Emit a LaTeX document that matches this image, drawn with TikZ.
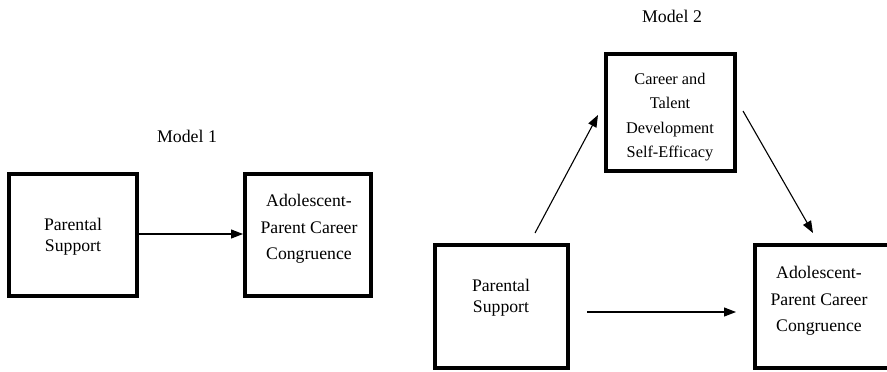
\documentclass[tikz,border=0pt]{standalone}
\usepackage{fontspec}
\setmainfont{Liberation Serif}
\usetikzlibrary{arrows.meta}
\begin{document}
\begin{tikzpicture}[x=1pt,y=-1pt,
  box/.style={draw=black,line width=3.6pt,inner sep=0pt},
  conn/.style={line width=1.1pt,-{Triangle[length=12pt,width=9pt]}},
  txtA/.style={align=center,inner sep=0pt,font=\fontsize{17.7}{21}\selectfont},
  txtB/.style={align=center,inner sep=0pt,font=\fontsize{17.7}{26.5}\selectfont},
  txtC/.style={align=center,inner sep=0pt,font=\fontsize{16.3}{24.4}\selectfont},
  lbl/.style={inner sep=0pt,font=\fontsize{17.8}{21}\selectfont}]
\useasboundingbox (0,0) rectangle (887,372);
\begin{scope}
\clip (0,0) rectangle (887,372);
% Model 1
\node[lbl] (m1) at (187,136) {Model 1};
\node[box,minimum width=128.4pt,minimum height=122.4pt] (p1) at (73,235) {};
\node[box,minimum width=126.4pt,minimum height=122.4pt] (a1) at (308,235) {};
\node[txtA] (p1t) at (73,237) {Parental\\Support};
\node[txtB] (a1t) at (309,229) {Adolescent-\\Parent Career\\Congruence};
\draw[conn] (p1.east |- 0,234) -- (a1.west |- 0,234);
% Model 2
\node[lbl] (m2) at (672,16) {Model 2};
\node[box,minimum width=129.4pt,minimum height=117.4pt] (c2) at (670.5,112.5) {};
\node[box,minimum width=133.4pt,minimum height=123.4pt] (p2) at (501.5,306.5) {};
\node[box,minimum width=145pt,minimum height=123.4pt] (a2) at (827.5,306.5) {};
\node[txtC] (c2t) at (670,117) {Career and\\Talent\\Development\\Self-Efficacy};
\node[txtA] (p2t) at (501,298) {Parental\\Support};
\node[txtB] (a2t) at (819,301) {Adolescent-\\Parent Career\\Congruence};
\coordinate (u1) at (535,233);
\coordinate (u2) at (598,115);
\coordinate (d1) at (743,111);
\coordinate (d2) at (813,233);
\coordinate (h1) at (587,312);
\coordinate (h2) at (736,312);
\draw[conn] (u1) -- (u2);
\draw[conn] (d1) -- (d2);
\draw[conn] (h1) -- (h2);
\end{scope}
\end{tikzpicture}
\end{document}
